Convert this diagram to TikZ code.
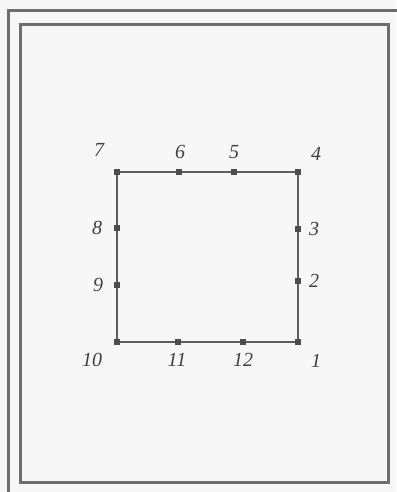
\documentclass[tikz,border=0pt]{standalone}
\usepackage{fontspec}
\setmainfont{Liberation Serif}
\usetikzlibrary{calc}
\definecolor{framegray}{HTML}{6E6E6E}
\definecolor{paper}{HTML}{F7F7F7}
\tikzset{
  frameline/.style={draw=framegray, line width=2pt},
  edgeline/.style={draw=framegray!85!black, line width=2pt},
  ptlabel/.style={font=\fontsize{15}{17}\selectfont\itshape, text=black!75, inner sep=0pt},
  ptmark/.style={fill=framegray!70!black, minimum width=5pt, minimum height=4.5pt, inner sep=0pt}
}
\begin{document}
\begin{tikzpicture}[x=0.75pt, y=-0.75pt]
  \fill[paper] (0,0) rectangle (396,492);
  \useasboundingbox (0,0) rectangle (396,492);
  % frames
  \draw[frameline] (8.5,496) -- (8.5,10.5) -- (400,10.5);
  \draw[frameline] (20.5,24.5) rectangle (388.5,482.5);
  % corner points of the contour, numbered
  \coordinate (p1) at (298,342);
  \coordinate (p2) at (298,281);
  \coordinate (p3) at (298,229);
  \coordinate (p4) at (298,172);
  \coordinate (p5) at (234,172);
  \coordinate (p6) at (179,172);
  \coordinate (p7) at (117,172);
  \coordinate (p8) at (117,228);
  \coordinate (p9) at (117,285);
  \coordinate (p10) at (117,342);
  \coordinate (p11) at (178,342);
  \coordinate (p12) at (243,342);
  \draw[edgeline] (p1) -- (p2) -- (p3) -- (p4) -- (p5) -- (p6) -- (p7)
        -- (p8) -- (p9) -- (p10) -- (p11) -- (p12) -- cycle;
  \foreach \i in {1,...,12}
    \node[ptmark] (m\i) at (p\i) {};
  % labels
  \node[ptlabel] (l1) at (316,361) {1};
  \node[ptlabel] (l2) at (314,281) {2};
  \node[ptlabel] (l3) at (314,229) {3};
  \node[ptlabel] (l4) at (316,154) {4};
  \node[ptlabel] (l5) at (234,152) {5};
  \node[ptlabel] (l6) at (180,152) {6};
  \node[ptlabel] (l7) at (99,150) {7};
  \node[ptlabel] (l8) at (97,228) {8};
  \node[ptlabel] (l9) at (98,285) {9};
  \node[ptlabel] (l10) at (92,360) {10};
  \node[ptlabel] (l11) at (177,360) {11};
  \node[ptlabel] (l12) at (243,360) {12};
\end{tikzpicture}
\end{document}
